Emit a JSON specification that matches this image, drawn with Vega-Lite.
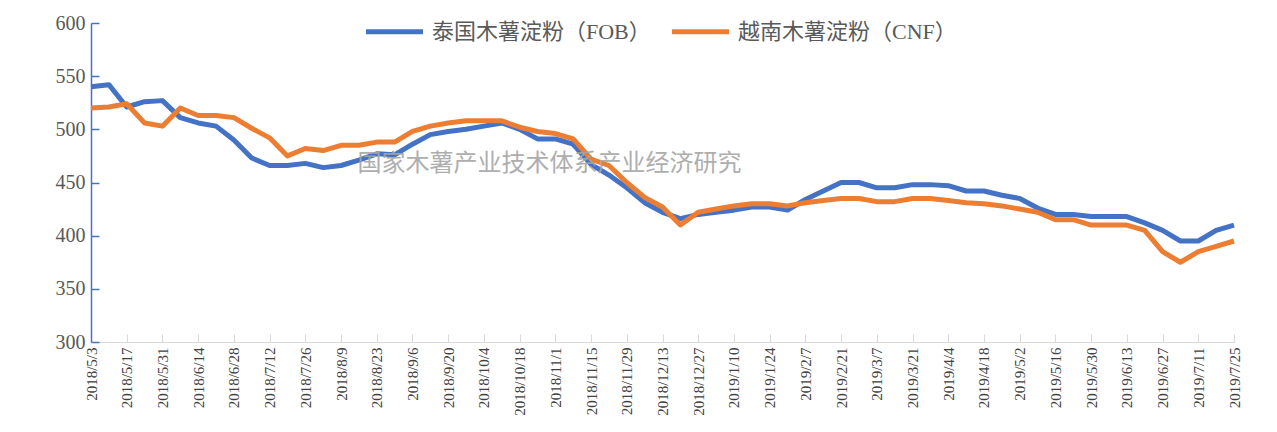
{
  "$schema": "https://vega.github.io/schema/vega-lite/v6.json",
  "width": 1143,
  "height": 319,
  "autosize": {"type": "none"},
  "padding": {"left": 91, "top": 23, "right": 43, "bottom": 90},
  "background": "white",
  "config": {"view": {"stroke": null}, "font": "Liberation Serif"},
  "data": {
    "values": [
      {"date": "2018/5/3", "泰国木薯淀粉（FOB）": 540, "越南木薯淀粉（CNF）": 520},
      {"date": "2018/5/10", "泰国木薯淀粉（FOB）": 542, "越南木薯淀粉（CNF）": 521},
      {"date": "2018/5/17", "泰国木薯淀粉（FOB）": 521, "越南木薯淀粉（CNF）": 524},
      {"date": "2018/5/24", "泰国木薯淀粉（FOB）": 526, "越南木薯淀粉（CNF）": 506},
      {"date": "2018/5/31", "泰国木薯淀粉（FOB）": 527, "越南木薯淀粉（CNF）": 503},
      {"date": "2018/6/7", "泰国木薯淀粉（FOB）": 511, "越南木薯淀粉（CNF）": 520},
      {"date": "2018/6/14", "泰国木薯淀粉（FOB）": 506, "越南木薯淀粉（CNF）": 513},
      {"date": "2018/6/21", "泰国木薯淀粉（FOB）": 503, "越南木薯淀粉（CNF）": 513},
      {"date": "2018/6/28", "泰国木薯淀粉（FOB）": 490, "越南木薯淀粉（CNF）": 511},
      {"date": "2018/7/5", "泰国木薯淀粉（FOB）": 473, "越南木薯淀粉（CNF）": 501},
      {"date": "2018/7/12", "泰国木薯淀粉（FOB）": 466, "越南木薯淀粉（CNF）": 492},
      {"date": "2018/7/19", "泰国木薯淀粉（FOB）": 466, "越南木薯淀粉（CNF）": 475},
      {"date": "2018/7/26", "泰国木薯淀粉（FOB）": 468, "越南木薯淀粉（CNF）": 482},
      {"date": "2018/8/2", "泰国木薯淀粉（FOB）": 464, "越南木薯淀粉（CNF）": 480},
      {"date": "2018/8/9", "泰国木薯淀粉（FOB）": 466, "越南木薯淀粉（CNF）": 485},
      {"date": "2018/8/16", "泰国木薯淀粉（FOB）": 471, "越南木薯淀粉（CNF）": 485},
      {"date": "2018/8/23", "泰国木薯淀粉（FOB）": 477, "越南木薯淀粉（CNF）": 488},
      {"date": "2018/8/30", "泰国木薯淀粉（FOB）": 476, "越南木薯淀粉（CNF）": 488},
      {"date": "2018/9/6", "泰国木薯淀粉（FOB）": 486, "越南木薯淀粉（CNF）": 498},
      {"date": "2018/9/13", "泰国木薯淀粉（FOB）": 495, "越南木薯淀粉（CNF）": 503},
      {"date": "2018/9/20", "泰国木薯淀粉（FOB）": 498, "越南木薯淀粉（CNF）": 506},
      {"date": "2018/9/27", "泰国木薯淀粉（FOB）": 500, "越南木薯淀粉（CNF）": 508},
      {"date": "2018/10/4", "泰国木薯淀粉（FOB）": 503, "越南木薯淀粉（CNF）": 508},
      {"date": "2018/10/11", "泰国木薯淀粉（FOB）": 506, "越南木薯淀粉（CNF）": 508},
      {"date": "2018/10/18", "泰国木薯淀粉（FOB）": 500, "越南木薯淀粉（CNF）": 502},
      {"date": "2018/10/25", "泰国木薯淀粉（FOB）": 491, "越南木薯淀粉（CNF）": 498},
      {"date": "2018/11/1", "泰国木薯淀粉（FOB）": 491, "越南木薯淀粉（CNF）": 496},
      {"date": "2018/11/8", "泰国木薯淀粉（FOB）": 486, "越南木薯淀粉（CNF）": 491},
      {"date": "2018/11/15", "泰国木薯淀粉（FOB）": 467, "越南木薯淀粉（CNF）": 472},
      {"date": "2018/11/22", "泰国木薯淀粉（FOB）": 457, "越南木薯淀粉（CNF）": 466},
      {"date": "2018/11/29", "泰国木薯淀粉（FOB）": 445, "越南木薯淀粉（CNF）": 450},
      {"date": "2018/12/6", "泰国木薯淀粉（FOB）": 431, "越南木薯淀粉（CNF）": 436},
      {"date": "2018/12/13", "泰国木薯淀粉（FOB）": 422, "越南木薯淀粉（CNF）": 427},
      {"date": "2018/12/20", "泰国木薯淀粉（FOB）": 416, "越南木薯淀粉（CNF）": 410},
      {"date": "2018/12/27", "泰国木薯淀粉（FOB）": 420, "越南木薯淀粉（CNF）": 422},
      {"date": "2019/1/3", "泰国木薯淀粉（FOB）": 422, "越南木薯淀粉（CNF）": 425},
      {"date": "2019/1/10", "泰国木薯淀粉（FOB）": 424, "越南木薯淀粉（CNF）": 428},
      {"date": "2019/1/17", "泰国木薯淀粉（FOB）": 427, "越南木薯淀粉（CNF）": 430},
      {"date": "2019/1/24", "泰国木薯淀粉（FOB）": 427, "越南木薯淀粉（CNF）": 430},
      {"date": "2019/1/31", "泰国木薯淀粉（FOB）": 424, "越南木薯淀粉（CNF）": 428},
      {"date": "2019/2/7", "泰国木薯淀粉（FOB）": 434, "越南木薯淀粉（CNF）": 431},
      {"date": "2019/2/14", "泰国木薯淀粉（FOB）": 442, "越南木薯淀粉（CNF）": 433},
      {"date": "2019/2/21", "泰国木薯淀粉（FOB）": 450, "越南木薯淀粉（CNF）": 435},
      {"date": "2019/2/28", "泰国木薯淀粉（FOB）": 450, "越南木薯淀粉（CNF）": 435},
      {"date": "2019/3/7", "泰国木薯淀粉（FOB）": 445, "越南木薯淀粉（CNF）": 432},
      {"date": "2019/3/14", "泰国木薯淀粉（FOB）": 445, "越南木薯淀粉（CNF）": 432},
      {"date": "2019/3/21", "泰国木薯淀粉（FOB）": 448, "越南木薯淀粉（CNF）": 435},
      {"date": "2019/3/28", "泰国木薯淀粉（FOB）": 448, "越南木薯淀粉（CNF）": 435},
      {"date": "2019/4/4", "泰国木薯淀粉（FOB）": 447, "越南木薯淀粉（CNF）": 433},
      {"date": "2019/4/11", "泰国木薯淀粉（FOB）": 442, "越南木薯淀粉（CNF）": 431},
      {"date": "2019/4/18", "泰国木薯淀粉（FOB）": 442, "越南木薯淀粉（CNF）": 430},
      {"date": "2019/4/25", "泰国木薯淀粉（FOB）": 438, "越南木薯淀粉（CNF）": 428},
      {"date": "2019/5/2", "泰国木薯淀粉（FOB）": 435, "越南木薯淀粉（CNF）": 425},
      {"date": "2019/5/9", "泰国木薯淀粉（FOB）": 426, "越南木薯淀粉（CNF）": 422},
      {"date": "2019/5/16", "泰国木薯淀粉（FOB）": 420, "越南木薯淀粉（CNF）": 415},
      {"date": "2019/5/23", "泰国木薯淀粉（FOB）": 420, "越南木薯淀粉（CNF）": 415},
      {"date": "2019/5/30", "泰国木薯淀粉（FOB）": 418, "越南木薯淀粉（CNF）": 410},
      {"date": "2019/6/6", "泰国木薯淀粉（FOB）": 418, "越南木薯淀粉（CNF）": 410},
      {"date": "2019/6/13", "泰国木薯淀粉（FOB）": 418, "越南木薯淀粉（CNF）": 410},
      {"date": "2019/6/20", "泰国木薯淀粉（FOB）": 412, "越南木薯淀粉（CNF）": 405},
      {"date": "2019/6/27", "泰国木薯淀粉（FOB）": 405, "越南木薯淀粉（CNF）": 385},
      {"date": "2019/7/4", "泰国木薯淀粉（FOB）": 395, "越南木薯淀粉（CNF）": 375},
      {"date": "2019/7/11", "泰国木薯淀粉（FOB）": 395, "越南木薯淀粉（CNF）": 385},
      {"date": "2019/7/18", "泰国木薯淀粉（FOB）": 405, "越南木薯淀粉（CNF）": 390},
      {"date": "2019/7/25", "泰国木薯淀粉（FOB）": 410, "越南木薯淀粉（CNF）": 395}
    ]
  },
  "layer": [
    {
      "transform": [{"fold": ["泰国木薯淀粉（FOB）", "越南木薯淀粉（CNF）"], "as": ["series", "value"]}],
      "mark": {"type": "line", "strokeWidth": 5, "strokeJoin": "round"},
      "encoding": {
        "x": {
          "field": "date",
          "type": "ordinal",
          "sort": null,
          "scale": {
            "type": "point",
            "padding": 0,
            "domain": ["2018/5/3","2018/5/10","2018/5/17","2018/5/24","2018/5/31","2018/6/7","2018/6/14","2018/6/21","2018/6/28","2018/7/5","2018/7/12","2018/7/19","2018/7/26","2018/8/2","2018/8/9","2018/8/16","2018/8/23","2018/8/30","2018/9/6","2018/9/13","2018/9/20","2018/9/27","2018/10/4","2018/10/11","2018/10/18","2018/10/25","2018/11/1","2018/11/8","2018/11/15","2018/11/22","2018/11/29","2018/12/6","2018/12/13","2018/12/20","2018/12/27","2019/1/3","2019/1/10","2019/1/17","2019/1/24","2019/1/31","2019/2/7","2019/2/14","2019/2/21","2019/2/28","2019/3/7","2019/3/14","2019/3/21","2019/3/28","2019/4/4","2019/4/11","2019/4/18","2019/4/25","2019/5/2","2019/5/9","2019/5/16","2019/5/23","2019/5/30","2019/6/6","2019/6/13","2019/6/20","2019/6/27","2019/7/4","2019/7/11","2019/7/18","2019/7/25"]
          },
          "axis": {
            "title": null,
            "values": ["2018/5/3","2018/5/17","2018/5/31","2018/6/14","2018/6/28","2018/7/12","2018/7/26","2018/8/9","2018/8/23","2018/9/6","2018/9/20","2018/10/4","2018/10/18","2018/11/1","2018/11/15","2018/11/29","2018/12/13","2018/12/27","2019/1/10","2019/1/24","2019/2/7","2019/2/21","2019/3/7","2019/3/21","2019/4/4","2019/4/18","2019/5/2","2019/5/16","2019/5/30","2019/6/13","2019/6/27","2019/7/11","2019/7/25"],
            "labelAngle": 270,
            "labelFontSize": 15,
            "labelColor": "#404040",
            "labelPadding": 13,
            "domainColor": "#d9d9d9",
            "tickColor": "#d9d9d9",
            "tickSize": -8,
            "grid": false
          }
        },
        "y": {
          "field": "value",
          "type": "quantitative",
          "scale": {"domain": [300, 600], "zero": false},
          "axis": {
            "title": null,
            "values": [300, 350, 400, 450, 500, 550, 600],
            "labelFontSize": 20,
            "labelColor": "#595959",
            "labelPadding": 14,
            "domainColor": "#4472C4",
            "domainWidth": 1.5,
            "tickColor": "#4472C4",
            "tickWidth": 1.5,
            "tickSize": -8,
            "grid": false
          }
        },
        "color": {
          "field": "series",
          "type": "nominal",
          "scale": {"domain": ["泰国木薯淀粉（FOB）", "越南木薯淀粉（CNF）"], "range": ["#4472C4", "#ED7D31"]},
          "legend": {
            "title": null,
            "orient": "none",
            "legendX": 272,
            "legendY": -23,
            "direction": "horizontal",
            "symbolType": "stroke",
            "symbolStrokeWidth": 5,
            "symbolSize": 3250,
            "labelFontSize": 22,
            "labelFont": "Liberation Serif, Noto Sans CJK SC",
            "labelColor": "#595959",
            "labelLimit": 400,
            "columnSpacing": 50,
            "labelOffset": 6
          }
        }
      }
    },
    {
      "data": {"values": [{}]},
      "mark": {"type": "text", "fontSize": 24, "color": "#a6a6a6", "font": "Noto Sans CJK SC", "align": "center", "baseline": "middle", "dx": 12, "opacity": 0.9},
      "encoding": {
        "x": {"datum": "2018/10/25", "type": "ordinal"},
        "y": {"datum": 467, "type": "quantitative", "scale": {"domain": [300, 600], "zero": false}},
        "text": {"value": "国家木薯产业技术体系产业经济研究"}
      }
    }
  ]
}
